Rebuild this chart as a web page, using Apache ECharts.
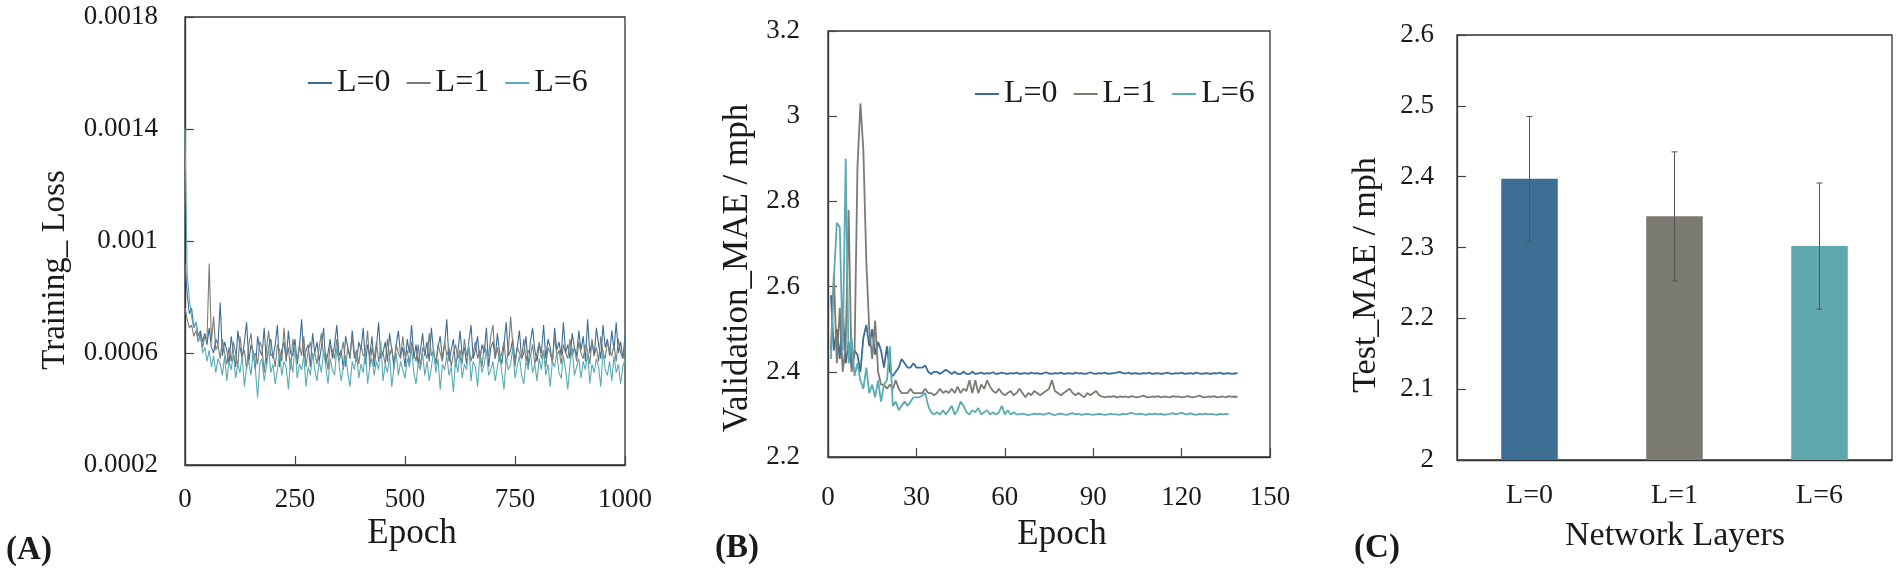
<!DOCTYPE html>
<html>
<head>
<meta charset="utf-8">
<script src="https://cdn.jsdelivr.net/npm/echarts@6/dist/echarts.min.js"></script>
<style>
  html, body { margin: 0; padding: 0; background: #fff; }
  #grafiek { width: 1902px; height: 573px; }
</style>
</head>
<body>
<div id="grafiek"></div>
<script>
// (A) training loss, one value every 5 epochs, in units of 1e-4
const lossEpochStep = 5;
const lossL0 = [
  9.2, 8.1, 7.4, 7.6, 6.9, 7.1, 6.6, 6.8, 6.4, 6.7, 6.3, 6.9, 6.2, 6.0, 6.5, 6.3, 7.8, 5.9, 6.4, 6.1,
  5.6, 6.6, 6.0, 5.5, 6.8, 6.2, 5.8, 6.4, 7.1, 5.7, 6.3, 6.0, 5.4, 6.6, 6.1, 5.9, 6.9, 5.6, 6.2, 6.5,
  5.8, 6.3, 7.0, 5.5, 6.1, 6.4, 5.7, 6.8, 6.0, 5.9, 6.5, 5.6, 6.2, 7.2, 5.8, 6.1, 6.3, 5.5, 6.7, 6.0,
  6.4, 5.7, 6.2, 6.9, 5.6, 6.0, 6.5, 5.8, 6.3, 7.0, 5.9, 6.1, 5.4, 6.6, 6.2, 5.8, 6.8, 6.0, 5.7, 6.4,
  6.1, 6.9, 5.6, 6.3, 5.9, 6.6, 5.5, 6.2, 7.1, 5.8, 6.0, 6.4, 5.7, 6.7, 6.1, 5.6, 6.3, 6.8, 5.9, 6.2,
  5.5, 6.5, 6.0, 7.0, 5.8, 6.3, 5.6, 6.1, 6.7, 5.9, 6.4, 5.7, 6.9, 6.0, 5.6, 6.2, 6.6, 5.8, 6.3, 7.2,
  5.7, 6.1, 6.5, 5.5, 6.0, 6.8, 5.9, 6.2, 5.6, 6.4, 7.0, 5.8, 6.1, 6.6, 5.7, 6.3, 6.0, 6.9, 5.5, 6.2,
  6.4, 5.8, 6.7, 6.0, 5.6, 6.3, 7.1, 5.9, 6.1, 6.5, 5.7, 6.2, 6.8, 5.8, 6.0, 6.6, 5.5, 6.4, 6.9, 6.1,
  5.7, 6.3, 6.0, 7.0, 5.8, 6.5, 6.2, 5.6, 6.9, 6.1, 6.4, 5.9, 7.1, 6.0, 6.3, 5.8, 6.7, 6.2, 5.9, 6.8,
  6.1, 6.6, 5.7, 7.2, 6.0, 6.4, 5.9, 6.9, 6.3, 5.8, 7.0, 6.2, 6.5, 5.9, 6.8, 6.1, 7.1, 6.0, 6.4, 5.8, 6.6
];
const lossL1 = [
  7.6, 7.2, 6.9, 7.0, 6.6, 6.8, 6.4, 6.7, 6.2, 6.6, 6.5, 9.2, 6.4, 7.3, 6.1, 6.3, 5.8, 6.5, 6.0, 5.6,
  6.2, 5.7, 6.4, 6.0, 5.5, 6.6, 5.9, 6.1, 5.4, 6.3, 6.7, 5.8, 6.0, 5.6, 6.4, 6.2, 5.3, 6.1, 6.8, 5.9,
  6.0, 5.5, 6.3, 6.1, 5.7, 6.9, 5.8, 6.2, 5.4, 6.5, 6.0, 5.7, 6.3, 5.9, 6.6, 5.5, 6.1, 6.4, 5.8, 6.0,
  5.6, 6.2, 6.7, 5.9, 6.0, 5.4, 6.3, 6.1, 5.8, 6.5, 5.7, 6.0, 6.4, 5.5, 6.2, 5.9, 6.6, 5.8, 6.1, 5.6,
  6.3, 5.9, 6.0, 6.8, 5.5, 6.2, 5.8, 6.4, 5.7, 6.1, 6.0, 5.6, 6.5, 5.9, 6.2, 5.4, 6.3, 6.0, 5.8, 6.6,
  5.9, 6.1, 5.6, 6.4, 6.0, 5.7, 6.3, 5.5, 6.2, 6.0, 5.8, 6.7, 5.9, 6.1, 5.6, 6.3, 6.0, 5.7, 6.4, 5.9,
  6.2, 5.5, 6.0, 6.3, 5.8, 6.1, 5.6, 6.5, 5.9, 6.2, 5.7, 6.0, 6.4, 5.8, 6.1, 5.5, 6.3, 6.0, 5.9, 6.6,
  7.0, 5.8, 6.2, 5.7, 6.0, 6.4, 5.6, 6.1, 7.3, 6.3, 5.5, 6.2, 6.0, 5.8, 6.5, 5.7, 6.1, 5.9, 6.3, 5.6,
  6.0, 6.4, 5.8, 6.1, 5.5, 6.2, 6.0, 5.7, 6.6, 5.9, 6.1, 5.6, 6.3, 6.0, 5.8, 6.5, 5.9, 6.2, 5.7, 6.4,
  6.0, 5.8, 6.3, 6.1, 5.6, 6.5, 5.9, 6.2, 5.7, 6.6, 6.0, 5.8, 6.4, 6.1, 5.9, 6.3, 5.7, 6.5, 6.0, 5.8, 6.2
];
const lossL6 = [
  14.0, 8.8, 7.9, 7.3, 6.9, 7.1, 6.4, 6.6, 6.0, 6.2, 5.7, 6.1, 5.5, 5.9, 5.3, 5.8, 5.6, 5.2, 5.9, 5.0,
  5.7, 5.4, 6.0, 5.1, 5.6, 5.3, 5.9, 4.8, 5.5, 5.7, 5.2, 6.1, 5.4, 4.4, 5.6, 5.8, 5.0, 5.5, 6.2, 5.3,
  5.6, 4.9, 5.4, 6.0, 5.2, 5.7, 5.5, 4.7, 5.8, 5.3, 6.3, 5.1, 5.6, 5.4, 5.9, 4.8, 5.5, 5.2, 6.0, 5.4,
  5.0, 5.7, 5.3, 6.1, 5.5, 4.9, 5.8, 5.4, 5.2, 6.2, 5.6, 5.0, 5.5, 5.9, 5.3, 4.8, 5.7, 5.4, 6.0, 5.1,
  5.6, 5.3, 6.1, 4.9, 5.5, 5.8, 5.2, 5.7, 5.4, 6.4, 5.0, 5.6, 5.3, 5.9, 4.8, 5.5, 6.0, 5.2, 5.7, 5.4,
  5.1, 5.8, 5.5, 6.2, 5.3, 4.9, 5.6, 5.4, 6.0, 5.2, 5.7, 5.0, 5.5, 6.1, 5.3, 5.8, 4.7, 5.6, 5.4, 5.9,
  5.2, 5.5, 4.6, 5.8, 5.3, 6.0, 5.1, 5.6, 5.4, 6.3, 5.0, 5.7, 5.5, 4.8, 5.9, 5.3, 5.6, 6.1, 5.2, 5.4,
  5.7, 5.0, 5.5, 6.0, 5.3, 4.7, 5.8, 5.4, 5.6, 6.2, 5.1, 5.5, 5.9, 5.2, 4.9, 5.7, 5.4, 6.0, 5.3, 5.6,
  5.0, 5.8, 5.4, 6.1, 5.2, 5.6, 4.8, 5.7, 5.5, 6.0, 5.3, 5.1, 5.9, 5.4, 4.7, 5.6, 6.2, 5.2, 5.5, 5.8,
  5.1, 5.7, 5.4, 6.0, 4.9, 5.6, 5.3, 5.8, 5.5, 4.8, 6.1, 5.4, 5.2, 5.7, 5.0, 5.9, 5.3, 5.6, 4.9, 5.5, 5.8
];
const lossTicks = [0.0002, 0.0006, 0.001, 0.0014, 0.0018];

// (B) validation MAE per epoch (epoch 1, 2, ...)
const maeL0 = [
  2.58, 2.45, 2.50, 2.43, 2.55, 2.42, 2.47, 2.41, 2.45, 2.44,
  2.40, 2.48, 2.51, 2.46, 2.50, 2.44, 2.47, 2.45, 2.41, 2.46,
  2.40, 2.39, 2.40, 2.41, 2.43, 2.42, 2.41, 2.41, 2.42, 2.41,
  2.41, 2.41, 2.415, 2.40, 2.395, 2.40, 2.40, 2.395, 2.40, 2.405,
  2.40, 2.395, 2.40, 2.395, 2.395, 2.40, 2.395, 2.395, 2.40, 2.395,
  2.396, 2.398, 2.395, 2.397, 2.396, 2.399, 2.395, 2.396, 2.398, 2.396,
  2.395, 2.397, 2.396, 2.398, 2.395, 2.396, 2.397, 2.395, 2.398, 2.396,
  2.397, 2.395, 2.396, 2.399, 2.396, 2.395, 2.397, 2.396, 2.398, 2.395,
  2.396, 2.397, 2.395, 2.398, 2.396, 2.397, 2.395, 2.396, 2.399, 2.396,
  2.395, 2.397, 2.396, 2.398, 2.395, 2.396, 2.397, 2.398, 2.400, 2.397,
  2.396, 2.398, 2.395, 2.397, 2.396, 2.395, 2.397, 2.396, 2.398, 2.395,
  2.396, 2.397, 2.395, 2.396, 2.398, 2.396, 2.395, 2.397, 2.396, 2.398,
  2.395, 2.396, 2.397, 2.395, 2.398, 2.396, 2.395, 2.397, 2.396, 2.395,
  2.397, 2.396, 2.398, 2.395, 2.396, 2.397, 2.395, 2.396, 2.397
];
const maeL1 = [
  2.45, 2.63, 2.42, 2.55, 2.40, 2.46, 2.78, 2.40, 2.44, 2.88,
  3.03, 2.92, 2.66, 2.50, 2.43, 2.52, 2.40, 2.37, 2.37, 2.36,
  2.37, 2.36, 2.38, 2.36, 2.35, 2.35, 2.35, 2.36, 2.35, 2.35,
  2.35, 2.35, 2.36, 2.35, 2.35, 2.345, 2.35, 2.36, 2.35, 2.355,
  2.35, 2.36, 2.35, 2.365, 2.35, 2.36, 2.355, 2.38, 2.35, 2.38,
  2.35, 2.37, 2.36, 2.38, 2.365, 2.355, 2.35, 2.36, 2.35, 2.345,
  2.35, 2.355, 2.345, 2.35, 2.36, 2.35, 2.34, 2.35, 2.345, 2.355,
  2.35, 2.345, 2.35, 2.355, 2.36, 2.38, 2.355, 2.35, 2.345, 2.35,
  2.355, 2.36, 2.35, 2.345, 2.35, 2.345, 2.34, 2.35, 2.345, 2.35,
  2.355, 2.345, 2.342, 2.34, 2.342, 2.341, 2.343, 2.34, 2.342, 2.341,
  2.342, 2.340, 2.343, 2.341, 2.340, 2.342, 2.344, 2.341, 2.340, 2.342,
  2.341, 2.343, 2.340, 2.342, 2.341, 2.340, 2.343, 2.341, 2.342, 2.340,
  2.341, 2.343, 2.341, 2.340, 2.342, 2.344, 2.341, 2.340, 2.342, 2.341,
  2.343, 2.340, 2.341, 2.342, 2.340, 2.343, 2.341, 2.342, 2.341
];
const maeL6 = [
  2.43, 2.62, 2.75, 2.74, 2.45, 2.90, 2.42, 2.48, 2.39, 2.42,
  2.38, 2.36, 2.41, 2.35, 2.37, 2.34, 2.38, 2.33, 2.37, 2.38,
  2.46, 2.32, 2.33, 2.31, 2.32, 2.33, 2.32, 2.33, 2.34, 2.34,
  2.34, 2.345, 2.35, 2.32, 2.305, 2.30, 2.305, 2.30, 2.31, 2.30,
  2.31, 2.32, 2.30, 2.31, 2.33, 2.32, 2.305, 2.30, 2.31, 2.305,
  2.315, 2.30, 2.305, 2.31, 2.30, 2.305, 2.30, 2.305, 2.32, 2.30,
  2.31, 2.30, 2.305, 2.30, 2.30, 2.302, 2.30, 2.298, 2.30, 2.302,
  2.300, 2.302, 2.299, 2.301, 2.303, 2.300, 2.298, 2.301, 2.302, 2.300,
  2.299, 2.301, 2.303, 2.300, 2.301, 2.299, 2.300, 2.301, 2.300, 2.299,
  2.300, 2.301, 2.300, 2.299, 2.300, 2.301, 2.300, 2.300, 2.299, 2.301,
  2.300, 2.302, 2.304, 2.301, 2.300, 2.302, 2.300, 2.299, 2.301, 2.300,
  2.302, 2.300, 2.301, 2.299, 2.300, 2.301, 2.303, 2.300, 2.302, 2.304,
  2.301, 2.300, 2.303, 2.300, 2.299, 2.301, 2.300, 2.302, 2.300, 2.301,
  2.300, 2.299, 2.301, 2.300, 2.301, 2.300
];
const maeTicks = [2.2, 2.4, 2.6, 2.8, 3.0, 3.2];

// (C) test MAE per network depth, with error bars
const layers = ['L=0', 'L=1', 'L=6'];
const testMae = [2.397, 2.344, 2.302];
const testErr = [0.088, 0.091, 0.089];

const kleuren = ['#3a6d98', '#7b7b72', '#5aabb3'];
const balkKleuren = ['#3d6f95', '#7a7a70', '#5ea8ae'];
const reeksNamen = ['L=0', 'L=1', 'L=6'];

const serif = '"Liberation Serif", "Times New Roman", serif';

function maakAs(extra) {
    let as = {
        axisLine: { show: true, lineStyle: { color: '#333', width: 1.3 } },
        axisTick: { show: true, inside: true, length: 9, lineStyle: { color: '#444', width: 1.2 } },
        axisLabel: { color: '#1a1a1a', fontFamily: serif, fontSize: 27 },
        splitLine: { show: false }
    };
    return Object.assign(as, extra);
}

function tekst(t, x, y, size, rot, bold) {
    return {
        type: 'text', x: x, y: y, rotation: rot || 0,
        style: {
            text: t, fill: '#1a1a1a', align: 'center', verticalAlign: 'middle',
            font: (bold ? 'bold ' : '') + size + 'px ' + serif
        }
    };
}

function toonGrafiek() {
    let grafiek = echarts.init(document.getElementById('grafiek'));
    let lossData = [lossL0, lossL1, lossL6];
    let maeData = [maeL0, maeL1, maeL6];

    let series = [];
    lossData.forEach((reeks, k) => {
        series.push({
            name: reeksNamen[k], type: 'line', xAxisIndex: 0, yAxisIndex: 0,
            showSymbol: false, animation: false,
            lineStyle: { color: kleuren[k], width: 1.1 },
            itemStyle: { color: kleuren[k] },
            data: reeks.map((v, i) => [i * lossEpochStep, v * 1e-4])
        });
    });
    maeData.forEach((reeks, k) => {
        series.push({
            name: reeksNamen[k], type: 'line', xAxisIndex: 1, yAxisIndex: 1,
            showSymbol: false, animation: false,
            lineStyle: { color: kleuren[k], width: 1.8 },
            itemStyle: { color: kleuren[k] },
            data: reeks.map((v, i) => [i + 1, v])
        });
    });
    series.push({
        type: 'bar', xAxisIndex: 2, yAxisIndex: 2, barWidth: '39%', animation: false,
        data: testMae.map((v, i) => ({ value: v, itemStyle: { color: balkKleuren[i] } }))
    });
    series.push({
        type: 'custom', xAxisIndex: 2, yAxisIndex: 2, animation: false, z: 5,
        data: testMae.map((v, i) => [i, v - testErr[i], v + testErr[i]]),
        renderItem: function (params, api) {
            let laag = api.coord([api.value(0), api.value(1)]);
            let hoog = api.coord([api.value(0), api.value(2)]);
            let stijl = { stroke: '#555', lineWidth: 1 };
            return {
                type: 'group',
                children: [
                    { type: 'line', shape: { x1: laag[0], y1: laag[1], x2: hoog[0], y2: hoog[1] }, style: stijl },
                    { type: 'line', shape: { x1: laag[0] - 3, y1: laag[1], x2: laag[0] + 3, y2: laag[1] }, style: stijl },
                    { type: 'line', shape: { x1: hoog[0] - 3, y1: hoog[1], x2: hoog[0] + 3, y2: hoog[1] }, style: stijl }
                ]
            };
        }
    });

    let legendBasis = {
        data: reeksNamen, icon: 'rect', itemWidth: 24, itemHeight: 2, itemGap: 16,
        textStyle: { fontFamily: serif, fontSize: 32, color: '#1a1a1a' }
    };

    let option = {
        backgroundColor: '#fff',
        animation: false,
        legend: [
            Object.assign({ left: 303, top: 62 }, legendBasis),
            Object.assign({ left: 970, top: 73 }, legendBasis)
        ],
        grid: [
            { left: 185, right: 1277, top: 17, bottom: 108, show: true, borderColor: '#333', borderWidth: 1.3 },
            { left: 828, right: 632, top: 31, bottom: 116, show: true, borderColor: '#333', borderWidth: 1.3 },
            { left: 1457, right: 10, top: 35, bottom: 113, show: true, borderColor: '#333', borderWidth: 1.3 }
        ],
        xAxis: [
            maakAs({ type: 'value', gridIndex: 0, min: 0, max: 1000, interval: 250,
                axisLabel: { color: '#1a1a1a', fontFamily: serif, fontSize: 27, margin: 21,
                    formatter: v => String(v) } }),
            maakAs({ type: 'value', gridIndex: 1, min: 0, max: 150, interval: 30,
                axisLabel: { color: '#1a1a1a', fontFamily: serif, fontSize: 27, margin: 27,
                    formatter: v => String(v) } }),
            maakAs({ type: 'category', gridIndex: 2, data: layers,
                axisTick: { show: false },
                axisLabel: { color: '#1a1a1a', fontFamily: serif, fontSize: 28, margin: 22 } })
        ],
        yAxis: [
            maakAs({ type: 'value', gridIndex: 0, min: 0.0002, max: 0.0018,
                axisTick: { show: true, inside: true, length: 9, customValues: lossTicks, lineStyle: { color: '#444', width: 1.2 } },
                axisLabel: { color: '#1a1a1a', fontFamily: serif, fontSize: 27, margin: 27, customValues: lossTicks,
                    formatter: v => String(+v.toFixed(4)) } }),
            maakAs({ type: 'value', gridIndex: 1, min: 2.2, max: 3.2,
                axisTick: { show: true, inside: true, length: 9, customValues: maeTicks, lineStyle: { color: '#444', width: 1.2 } },
                axisLabel: { color: '#1a1a1a', fontFamily: serif, fontSize: 27, margin: 28, customValues: maeTicks,
                    formatter: v => String(+v.toFixed(1)) } }),
            maakAs({ type: 'value', gridIndex: 2, min: 2, max: 2.6, interval: 0.1,
                axisLabel: { color: '#1a1a1a', fontFamily: serif, fontSize: 27, margin: 23,
                    formatter: v => String(+v.toFixed(1)) } })
        ],
        graphic: [
            tekst('Training_ Loss', 55, 270, 33, Math.PI / 2),
            tekst('Validation_MAE / mph', 738, 268, 35, Math.PI / 2),
            tekst('Test_MAE / mph', 1366, 275, 34, Math.PI / 2),
            tekst('Epoch', 412, 534, 35),
            tekst('Epoch', 1062, 535, 35),
            tekst('Network Layers', 1675, 536, 34),
            tekst('(A)', 29, 550, 33, 0, true),
            tekst('(B)', 737, 548, 33, 0, true),
            tekst('(C)', 1377, 548, 33, 0, true)
        ],
        series: series
    };
    grafiek.setOption(option);
}

window.onload = function () {
    if (document.getElementById('grafiek')) {
        toonGrafiek();
    } else {
        console.error("Element #grafiek niet gevonden!");
    }
};
</script>
</body>
</html>
